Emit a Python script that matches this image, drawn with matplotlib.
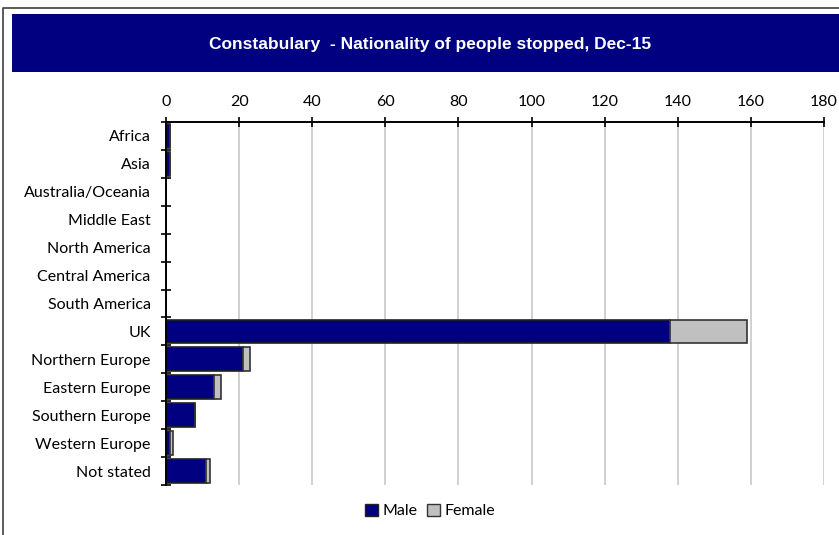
import matplotlib.pyplot as plt
from matplotlib.patches import Rectangle, Patch
from matplotlib.lines import Line2D

# ==========================================
# DATA
# ==========================================

regions = ["Africa", "Asia", "Australia/Oceania", "Middle East", "North America",
           "Central America", "South America", "UK", "Northern Europe",
           "Eastern Europe", "Southern Europe", "Western Europe", "Not stated"]
male = [1, 1, 0, 0, 0, 0, 0, 138, 21, 13, 8, 1, 11]
female = [0, 0, 0, 0, 0, 0, 0, 21, 2, 2, 0, 1, 1]
x_ticks = [0, 20, 40, 60, 80, 100, 120, 140, 160, 180]

NAVY = "#000080"
GREY = "#C0C0C0"

# ==========================================
# FIGURE
# ==========================================

fig = plt.figure(figsize=(8.39, 5.35), dpi=100)
W, H = 839, 535

# outer frame (left and top edges only visible)
fig.lines.append(Line2D([3 / W, 3 / W, 1], [0, 1 - 8 / H, 1 - 8 / H],
                        transform=fig.transFigure, color="#404040", linewidth=1.2))

# title banner
fig.patches.append(Rectangle((12 / W, 1 - 72 / H), 1 - 12 / W, 58 / H,
                             transform=fig.transFigure, facecolor=NAVY,
                             edgecolor="none"))
fig.text(430 / W, 1 - 44 / H, "Constabulary  - Nationality of people stopped, Dec-15",
         color="white", fontsize=12.5, fontweight="bold",
         family=["Liberation Sans", "DejaVu Sans"],
         ha="center", va="center")

ax = fig.add_axes([166 / W, 1 - 485 / H, (824 - 166) / W, (485 - 122) / H])

y = list(range(len(regions)))
ax.barh(y, male, height=0.85, color=NAVY, edgecolor="#222222", linewidth=1.2,
        label="Male", zorder=3)
ax.barh(y, female, left=male, height=0.85, color=GREY, edgecolor="#333333",
        linewidth=1.2, label="Female", zorder=3)

ax.set_xlim(0, 180)
ax.set_ylim(len(regions) - 0.5, -0.5)

ax.xaxis.tick_top()
ax.set_xticks(x_ticks)
ax.set_yticks(y)
ax.set_yticklabels(regions)
ax.set_yticks([i - 0.5 for i in range(len(regions) + 1)], minor=True)

lbl_font = ["Lato", "DejaVu Sans"]
for t in ax.get_xticklabels() + ax.get_yticklabels():
    t.set_family(lbl_font)
    t.set_fontsize(11.5)

ax.tick_params(axis="y", which="major", length=0, pad=11)
ax.tick_params(axis="y", which="minor", length=7, direction="inout", width=1.2)
ax.tick_params(axis="x", which="major", length=7, direction="inout", width=1.2, pad=6)

ax.grid(axis="x", color="#C8C8C8", linewidth=1.2, zorder=0)
for s in ["right", "bottom"]:
    ax.spines[s].set_visible(False)
for s in ["top", "left"]:
    ax.spines[s].set_linewidth(1.4)
    ax.spines[s].set_zorder(4)

handles = [Patch(facecolor=NAVY, edgecolor="#222222", label="Male"),
           Patch(facecolor=GREY, edgecolor="#333333", label="Female")]
fig.legend(handles=handles, loc="center", bbox_to_anchor=(430 / W, 1 - 511 / H),
           ncol=2, frameon=False, handlelength=0.8, handleheight=0.8,
           handletextpad=0.3, columnspacing=0.6,
           prop={"family": lbl_font, "size": 11.5})

fig.savefig("out.png", dpi=100)
